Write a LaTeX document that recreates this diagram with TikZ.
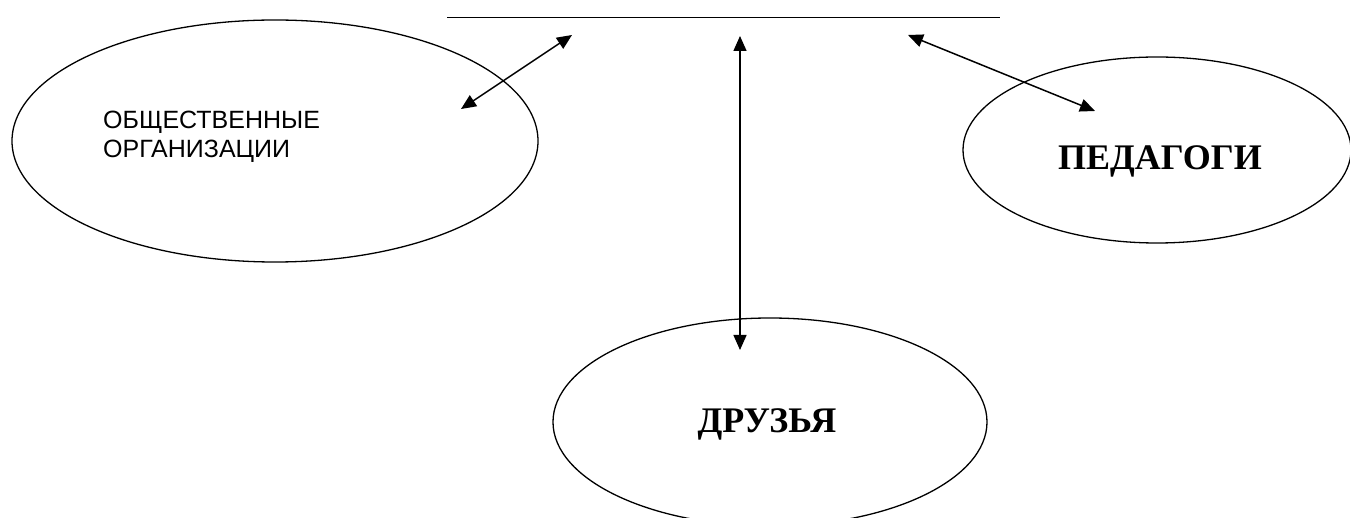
\documentclass[tikz,border=0pt]{standalone}
\usepackage{fontspec}
\setmainfont{Liberation Serif}
\newfontfamily\arialfont{Liberation Sans}
\usetikzlibrary{arrows.meta,shapes.geometric}
\tikzset{
  oval/.style={draw, ellipse, line width=1.3pt, inner sep=0pt},
  link/.style={line width=1.5pt, {Triangle[length=15pt,width=13pt]}-{Triangle[length=15pt,width=13pt]}},
  bar/.style={line width=1.6pt},
  lbl/.style={inner sep=0pt, font=\bfseries\fontsize{36}{40}\selectfont},
  slbl/.style={inner sep=0pt, align=left, font=\arialfont\fontsize{25}{29}\selectfont}
}
\begin{document}
\begin{tikzpicture}[x=1pt,y=-1pt]
\useasboundingbox (0,0) rectangle (1350,518);
% top line
\coordinate (barL) at (447,17.7);
\coordinate (barR) at (1000,17.7);
\draw[bar] (barL) -- (barR);
% ellipses
\node[oval, minimum width=526pt, minimum height=242pt] (org) at (275,141) {};
\node[oval, minimum width=388pt, minimum height=186pt] (ped) at (1157,150) {};
\node[oval, minimum width=434pt, minimum height=208pt] (dru) at (770,422) {};
% texts
\node[slbl, anchor=west] (orgT) at (103,136.5) {ОБЩЕСТВЕННЫЕ\\ОРГАНИЗАЦИИ};
\node[lbl, anchor=base] (pedT) at (1160,170) {ПЕДАГОГИ};
\node[lbl, anchor=base] (druT) at (767,433) {ДРУЗЬЯ};
% arrow ends
\coordinate (a1) at (572,35);
\coordinate (a2) at (461,109);
\coordinate (b1) at (740,36);
\coordinate (b2) at (740,350);
\coordinate (c1) at (908,35);
\coordinate (c2) at (1095,111);
\draw[link] (a1) -- (a2);
\draw[link] (b1) -- (b2);
\draw[link] (c1) -- (c2);
\end{tikzpicture}
\end{document}
